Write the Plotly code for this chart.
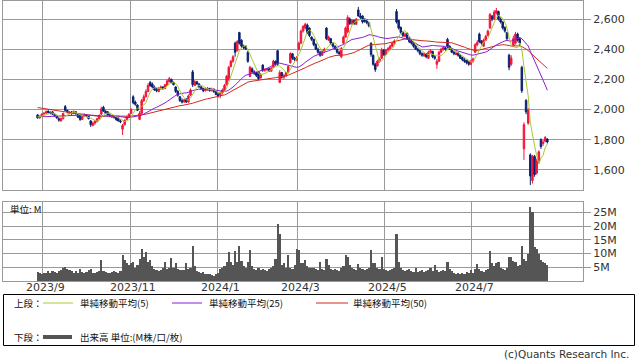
import pandas as pd
import plotly.graph_objects as go

# ---------------- data ----------------
holidays = ["2023-09-18", "2023-10-09", "2023-11-03", "2023-11-23", "2024-01-01",
            "2024-01-02", "2024-01-03", "2024-01-08", "2024-02-12", "2024-02-23",
            "2024-03-20", "2024-04-29", "2024-05-03", "2024-05-06", "2024-07-15",
            "2024-08-12"]
month_labels = ["2023/9", "2023/11", "2024/1", "2024/3", "2024/5", "2024/7"]
price_ticks = [1600, 1800, 2000, 2200, 2400, 2600]
volume_ticks = [5, 10, 15, 20, 25]
volume_ticktext = ["5M", "10M", "15M", "20M", "25M"]

# closes before the visible window (only used for the moving averages)
history_close = [2090, 2100, 2085, 2070, 2060, 2075, 2090, 2080, 2065, 2050,
                 2060, 2075, 2085, 2080, 2070, 2060, 2055, 2070, 2080, 2075,
                 2065, 2060, 2055, 2050, 2060,
                 2020, 2000, 1985, 1970, 1960, 1950, 1945, 1955, 1960, 1950,
                 1940, 1935, 1945, 1950, 1960, 1955, 1945, 1940, 1950, 1960,
                 1955, 1945, 1950, 1960]

open_ = [1965, 1945, 1955, 1972, 1978, 1990, 1982, 1985, 1968, 1955,
         1940, 1925, 1940, 2020, 1995, 1975, 1985, 1975, 1985, 1970,
         1965, 1935, 1955, 1965, 1955, 1925, 1895, 1910, 1920, 1940,
         1970, 2015, 1990, 1985, 1965, 1950, 1960, 1950, 1945, 1925,
         1870, 1900, 1935, 1950, 1975, 2085, 2050, 2030, 1935, 1975,
         2060, 2085, 2120, 2180, 2170, 2150, 2135, 2120, 2140, 2150,
         2140, 2160, 2185, 2200, 2180, 2150, 2120, 2085, 2060, 2050,
         2070, 2050, 2095, 2250, 2160, 2185, 2170, 2150, 2140, 2125,
         2135, 2140, 2125, 2135, 2120, 2100, 2095, 2110, 2130, 2165,
         2200, 2285, 2320, 2440, 2390, 2510, 2460, 2420, 2420, 2380,
         2220, 2270, 2250, 2245, 2250, 2210, 2295, 2260, 2265, 2270,
         2255, 2280, 2320, 2390, 2180, 2245, 2215, 2225, 2245, 2310,
         2370, 2340, 2330, 2400, 2440, 2520, 2540, 2560, 2540, 2480,
         2465, 2430, 2400, 2380, 2360, 2385, 2540, 2460, 2470, 2440,
         2420, 2400, 2380, 2350, 2440, 2480, 2515, 2600, 2570, 2590,
         2565, 2660, 2620, 2620, 2600, 2590, 2575, 2440, 2360, 2300,
         2290, 2320, 2340, 2395, 2365, 2395, 2405, 2420, 2440, 2650,
         2590, 2545, 2510, 2485, 2505, 2470, 2455, 2440, 2420, 2400,
         2390, 2370, 2355, 2370, 2340, 2380, 2385, 2350, 2300, 2320,
         2380, 2400, 2410, 2465, 2420, 2400, 2380, 2365, 2375, 2360,
         2345, 2330, 2325, 2315, 2300, 2320, 2380, 2430, 2500, 2455,
         2420, 2460, 2490, 2540, 2620, 2600, 2640, 2650, 2600, 2580,
         2545, 2510, 2360, 2300, 2420, 2440, 2500, 2470, 2280, 1740,
         2060, 1910, 1700, 1530, 1690, 1580, 1650, 1800, 1775, 1790, 1805]

high = [1970, 1960, 1975, 1985, 1995, 1995, 1988, 1990, 1975, 1960,
        1950, 1945, 1980, 2030, 2000, 1990, 1990, 1995, 1990, 1975,
        1970, 1960, 1975, 1970, 1960, 1930, 1920, 1930, 1945, 1970,
        2020, 2025, 1995, 1990, 1975, 1965, 1965, 1955, 1950, 1935,
        1905, 1935, 1960, 1975, 2010, 2095, 2060, 2035, 1990, 2070,
        2100, 2135, 2175, 2190, 2180, 2160, 2145, 2150, 2160, 2155,
        2170, 2200, 2216, 2205, 2185, 2155, 2130, 2090, 2075, 2070,
        2075, 2100, 2140, 2262, 2195, 2190, 2175, 2160, 2145, 2140,
        2150, 2145, 2145, 2140, 2125, 2110, 2120, 2140, 2170, 2230,
        2290, 2330, 2360, 2450, 2460, 2515, 2465, 2430, 2425, 2390,
        2290, 2280, 2260, 2250, 2255, 2240, 2300, 2275, 2275, 2275,
        2280, 2330, 2325, 2395, 2260, 2250, 2235, 2250, 2290, 2380,
        2375, 2350, 2355, 2450, 2530, 2560, 2575, 2570, 2545, 2485,
        2470, 2440, 2410, 2390, 2395, 2410, 2545, 2490, 2475, 2445,
        2425, 2405, 2390, 2415, 2490, 2550, 2625, 2610, 2600, 2595,
        2605, 2680, 2640, 2625, 2605, 2600, 2580, 2445, 2365, 2310,
        2330, 2345, 2410, 2400, 2400, 2415, 2430, 2445, 2465, 2666,
        2595, 2550, 2520, 2510, 2510, 2480, 2460, 2445, 2430, 2410,
        2395, 2380, 2380, 2375, 2390, 2400, 2390, 2360, 2335, 2390,
        2410, 2420, 2415, 2475, 2425, 2410, 2390, 2385, 2380, 2365,
        2350, 2340, 2330, 2320, 2330, 2345, 2440, 2460, 2510, 2460,
        2470, 2495, 2530, 2640, 2625, 2660, 2673, 2655, 2610, 2585,
        2550, 2515, 2370, 2360, 2490, 2515, 2510, 2480, 2290, 1915,
        2070, 2010, 1710, 1700, 1700, 1675, 1730, 1810, 1800, 1825, 1810]

low = [1940, 1940, 1950, 1965, 1970, 1975, 1968, 1965, 1955, 1940,
       1920, 1920, 1935, 1990, 1975, 1970, 1965, 1970, 1965, 1945,
       1925, 1930, 1950, 1950, 1935, 1885, 1890, 1900, 1915, 1935,
       1965, 1985, 1970, 1960, 1950, 1945, 1940, 1925, 1920, 1910,
       1832, 1895, 1930, 1945, 1970, 2035, 2025, 1990, 1930, 1970,
       2050, 2080, 2115, 2150, 2140, 2125, 2115, 2115, 2130, 2130,
       2135, 2155, 2180, 2175, 2160, 2110, 2085, 2050, 2040, 2045,
       2045, 2045, 2090, 2150, 2155, 2165, 2145, 2130, 2115, 2120,
       2125, 2120, 2120, 2110, 2095, 2080, 2075, 2100, 2125, 2160,
       2190, 2280, 2310, 2350, 2385, 2430, 2410, 2400, 2395, 2310,
       2215, 2240, 2230, 2215, 2195, 2205, 2250, 2250, 2255, 2250,
       2250, 2275, 2290, 2290, 2175, 2205, 2200, 2215, 2240, 2305,
       2330, 2320, 2320, 2390, 2435, 2510, 2530, 2500, 2480, 2455,
       2420, 2395, 2370, 2350, 2355, 2375, 2460, 2455, 2430, 2410,
       2395, 2370, 2360, 2340, 2435, 2475, 2505, 2560, 2560, 2560,
       2560, 2615, 2600, 2570, 2575, 2565, 2545, 2350, 2290, 2250,
       2285, 2310, 2335, 2355, 2360, 2385, 2395, 2415, 2430, 2570,
       2530, 2500, 2480, 2480, 2465, 2440, 2430, 2410, 2395, 2380,
       2360, 2350, 2350, 2340, 2335, 2370, 2340, 2330, 2270, 2315,
       2375, 2390, 2390, 2405, 2395, 2375, 2360, 2360, 2350, 2335,
       2320, 2310, 2300, 2290, 2295, 2310, 2375, 2420, 2440, 2430,
       2415, 2455, 2485, 2535, 2585, 2595, 2630, 2590, 2570, 2530,
       2510, 2460, 2260, 2290, 2415, 2430, 2450, 2420, 2110, 1667,
       1970, 1900, 1500, 1510, 1555, 1570, 1640, 1740, 1760, 1785, 1775]

close = [1945, 1955, 1970, 1975, 1985, 1980, 1975, 1970, 1960, 1945,
         1930, 1940, 1975, 1995, 1985, 1980, 1975, 1985, 1975, 1950,
         1935, 1955, 1965, 1960, 1940, 1900, 1910, 1925, 1940, 1960,
         2005, 1990, 1975, 1965, 1960, 1958, 1950, 1935, 1925, 1920,
         1895, 1930, 1950, 1970, 2000, 2045, 2035, 1995, 1975, 2060,
         2085, 2120, 2160, 2160, 2150, 2130, 2125, 2140, 2150, 2140,
         2165, 2190, 2205, 2180, 2165, 2120, 2095, 2060, 2050, 2065,
         2050, 2090, 2130, 2165, 2185, 2170, 2150, 2140, 2125, 2135,
         2140, 2125, 2135, 2120, 2100, 2090, 2110, 2130, 2160, 2220,
         2280, 2320, 2350, 2380, 2450, 2440, 2420, 2410, 2400, 2320,
         2280, 2250, 2240, 2225, 2205, 2235, 2260, 2265, 2270, 2255,
         2275, 2320, 2300, 2300, 2245, 2215, 2225, 2245, 2285, 2370,
         2340, 2330, 2345, 2440, 2520, 2550, 2565, 2510, 2490, 2465,
         2430, 2400, 2380, 2360, 2385, 2400, 2470, 2480, 2440, 2420,
         2405, 2380, 2370, 2405, 2480, 2540, 2610, 2570, 2590, 2570,
         2600, 2620, 2610, 2580, 2585, 2575, 2555, 2365, 2300, 2265,
         2320, 2335, 2395, 2365, 2395, 2405, 2420, 2440, 2455, 2580,
         2540, 2510, 2490, 2500, 2470, 2450, 2440, 2420, 2400, 2390,
         2370, 2360, 2370, 2350, 2380, 2390, 2350, 2340, 2320, 2380,
         2400, 2410, 2400, 2420, 2400, 2380, 2370, 2375, 2360, 2340,
         2330, 2320, 2310, 2300, 2320, 2335, 2430, 2445, 2450, 2440,
         2460, 2485, 2520, 2630, 2600, 2645, 2655, 2600, 2580, 2540,
         2520, 2470, 2280, 2340, 2470, 2500, 2460, 2440, 2125, 1900,
         1985, 2000, 1560, 1690, 1570, 1660, 1720, 1755, 1785, 1815, 1785]

volume_m = [3.5, 3.0, 2.8, 3.2, 3.0, 3.6, 3.2, 3.8, 3.4, 3.0,
            3.6, 4.2, 4.8, 5.2, 4.5, 4.0, 3.6, 3.2, 3.8, 3.0,
            4.5, 3.4, 3.0, 3.5, 4.2, 4.5, 3.2, 3.0, 3.4, 3.6,
            7.9, 3.8, 3.4, 3.0, 3.2, 3.5, 3.6, 3.4, 3.2, 3.8,
            9.5, 7.9, 6.5, 5.8, 6.8, 7.0, 5.0, 6.0, 8.0, 11.9,
            8.8, 10.5, 7.0, 7.9, 5.5, 4.5, 4.0, 3.6, 4.2, 4.8,
            7.1, 4.5, 5.0, 8.6, 5.0, 6.5, 4.5, 4.0, 4.2, 4.0,
            6.5, 4.5, 5.0, 12.8, 5.5, 3.8, 3.5, 3.2, 3.4, 2.8,
            2.5, 2.8, 2.4, 2.0, 2.6, 3.0, 4.5, 5.0, 5.5, 7.0,
            10.5, 7.0, 6.0, 11.0, 7.0, 12.8, 7.5, 5.5, 4.8, 7.0,
            11.5, 5.5, 4.5, 4.0, 5.0, 4.0, 4.5, 4.2, 3.8, 4.5,
            4.8, 5.5, 8.3, 20.8, 17.4, 6.0, 6.5, 5.0, 9.5, 5.0,
            4.5, 6.0, 11.8, 11.3, 6.5, 6.5, 7.9, 5.5, 5.0, 5.0,
            4.8, 4.5, 4.2, 7.2, 4.5, 4.0, 8.2, 6.0, 4.5, 4.0,
            4.5, 4.0, 3.8, 5.0, 5.5, 9.5, 8.9, 6.0, 5.0, 4.5,
            4.0, 6.2, 5.0, 4.5, 4.0, 4.5, 5.0, 11.3, 6.7, 6.5,
            5.0, 4.5, 8.9, 4.5, 4.0, 3.8, 4.2, 4.5, 5.0, 17.4,
            7.2, 5.0, 4.0, 3.8, 4.2, 4.5, 3.6, 3.4, 4.8, 3.5,
            3.8, 4.2, 3.5, 3.8, 4.0, 5.0, 3.6, 5.8, 4.0, 3.5,
            3.8, 4.0, 3.6, 6.9, 4.5, 3.6, 3.2, 2.8, 3.0, 2.6,
            3.2, 2.8, 3.4, 3.0, 4.0, 3.2, 4.5, 6.3, 4.5, 3.8,
            3.5, 4.0, 4.5, 11.0, 6.5, 5.5, 6.5, 7.2, 5.0, 4.5,
            4.0, 5.0, 8.9, 8.9, 7.5, 6.9, 5.5, 6.0, 13.0, 8.0,
            7.5, 10.1, 27.0, 25.3, 12.5, 11.9, 10.1, 7.7, 7.0, 6.5, 6.0]

# ---------------- derived ----------------
dates = [d for d in pd.bdate_range("2023-08-29", "2024-08-21")
         if d.strftime("%Y-%m-%d") not in holidays]
n = len(close)
idx = list(range(n))
full = pd.Series(history_close + close, dtype=float)
ma5 = full.rolling(5).mean().iloc[len(history_close):].tolist()
ma25 = full.rolling(25).mean().iloc[len(history_close):].tolist()
ma50 = full.rolling(50).mean().iloc[len(history_close):].tolist()

month_idx = []
for lab in month_labels:
    y, m = lab.split("/")
    for i, d in enumerate(dates[:n]):
        if d.year == int(y) and d.month == int(m):
            month_idx.append(i - 0.5)
            break

RED = "#f0163c"
BLUE = "#0d2170"
GRID = "#9a9a9a"
W, H = 638, 362
X0, X1 = 3, 583           # plot area in pixels
XR = [-16.3, 256.8]       # index range shown


def px(x):
    return x / W


def py(y):
    return 1 - y / H


fig = go.Figure()
fig.add_trace(go.Candlestick(
    x=idx, open=open_, high=high, low=low, close=close,
    increasing=dict(line=dict(color=RED, width=1), fillcolor=RED),
    decreasing=dict(line=dict(color=BLUE, width=1), fillcolor=BLUE),
    whiskerwidth=0, xaxis="x", yaxis="y", showlegend=False, hoverinfo="skip"))
fig.add_trace(go.Scatter(x=idx, y=ma50, mode="lines", line=dict(color="#d02a1e", width=1),
                         xaxis="x", yaxis="y", showlegend=False, hoverinfo="skip"))
fig.add_trace(go.Scatter(x=idx, y=ma25, mode="lines", line=dict(color="#8a1ed2", width=1),
                         xaxis="x", yaxis="y", showlegend=False, hoverinfo="skip"))
fig.add_trace(go.Scatter(x=idx, y=ma5, mode="lines", line=dict(color="#a8c830", width=1),
                         xaxis="x", yaxis="y", showlegend=False, hoverinfo="skip"))
fig.add_trace(go.Bar(x=idx, y=volume_m, marker=dict(color="#555555", line=dict(width=0)),
                     width=1.0, xaxis="x2", yaxis="y2", showlegend=False, hoverinfo="skip"))

xdom = [px(X0), px(X1)]
tickfont = dict(family="DejaVu Sans", size=11, color="#333333")
common_x = dict(range=XR, domain=xdom, tickvals=month_idx, showgrid=True, gridcolor=GRID,
                gridwidth=1, zeroline=False, showline=True, linecolor=GRID, linewidth=1,
                mirror=True, rangeslider=dict(visible=False), fixedrange=True,
                showticklabels=False, ticks="")

fig.update_layout(
    width=W, height=H, margin=dict(l=0, r=0, t=0, b=0),
    paper_bgcolor="white", plot_bgcolor="white",
    bargap=0, boxgap=0.3, boxgroupgap=0,
    xaxis=dict(**common_x, anchor="y"),
    xaxis2=dict(**common_x, anchor="y2"),
    yaxis=dict(domain=[py(190), py(1)], range=[1467.5, 2719.2], side="right",
               tickvals=price_ticks, tickformat=",", showgrid=True, gridcolor=GRID,
               zeroline=False, showline=True, linecolor=GRID, mirror=True,
               ticks="outside", ticklen=7, tickcolor=GRID, tickfont=tickfont,
               anchor="x", fixedrange=True),
    yaxis2=dict(domain=[py(281), py(201.7)], range=[0, 28.9], side="right",
                tickvals=volume_ticks, ticktext=volume_ticktext, showgrid=True,
                gridcolor=GRID, zeroline=False, showline=True, linecolor=GRID,
                mirror=True, ticks="outside", ticklen=7, tickcolor=GRID,
                tickfont=tickfont, anchor="x2", fixedrange=True),
)

cjk = "Noto Sans CJK JP"
shapes = [
    dict(type="rect", xref="paper", yref="paper", x0=px(3.5), x1=px(634.5),
         y0=py(345.5), y1=py(294.5), line=dict(color="black", width=1)),
    dict(type="line", xref="paper", yref="paper", x0=px(43), x1=px(73), y0=py(303), y1=py(303),
         line=dict(color="#a8c830", width=1)),
    dict(type="line", xref="paper", yref="paper", x0=px(172), x1=px(202), y0=py(303), y1=py(303),
         line=dict(color="#8a1ed2", width=1)),
    dict(type="line", xref="paper", yref="paper", x0=px(316), x1=px(348), y0=py(303), y1=py(303),
         line=dict(color="#d02a1e", width=1)),
    dict(type="line", xref="paper", yref="paper", x0=px(43), x1=px(72), y0=py(337), y1=py(337),
         line=dict(color="#555555", width=4)),
]
fig.update_layout(shapes=shapes)

texts = [
    ("上段：", 12, 303), ("単純移動平均(5)", 78, 303), ("単純移動平均(25)", 207, 303),
    ("単純移動平均(50)", 351, 303), ("下段：", 12, 337), ("出来高 単位:(M株/口/枚)", 78, 337),
    ("単位: M", 8, 209),
]
ann = []
for t, x, y in texts:
    ann.append(dict(text=t, xref="paper", yref="paper", x=px(x), y=py(y), xanchor="left",
                    yanchor="middle", showarrow=False,
                    font=dict(family=cjk, size=9.5, color="#111111")))
# month labels under the volume panel, placed at the month grid lines
for lab, mi in zip(month_labels, month_idx):
    xpix = X0 + (mi - XR[0]) / (XR[1] - XR[0]) * (X1 - X0)
    ann.append(dict(text=lab, xref="paper", yref="paper", x=px(xpix + 3), y=py(287),
                    xanchor="center", yanchor="middle", showarrow=False, font=tickfont))
ann.append(dict(text="(c)Quants Research Inc.", xref="paper", yref="paper", x=px(631),
                y=py(354), xanchor="right", yanchor="middle", showarrow=False,
                font=dict(family="DejaVu Sans", size=10.5, color="#333333")))
fig.update_layout(annotations=ann)

fig.write_html("out.html", config={"displayModeBar": False},
               post_script="document.body.style.margin='0';document.body.style.padding='0';")
